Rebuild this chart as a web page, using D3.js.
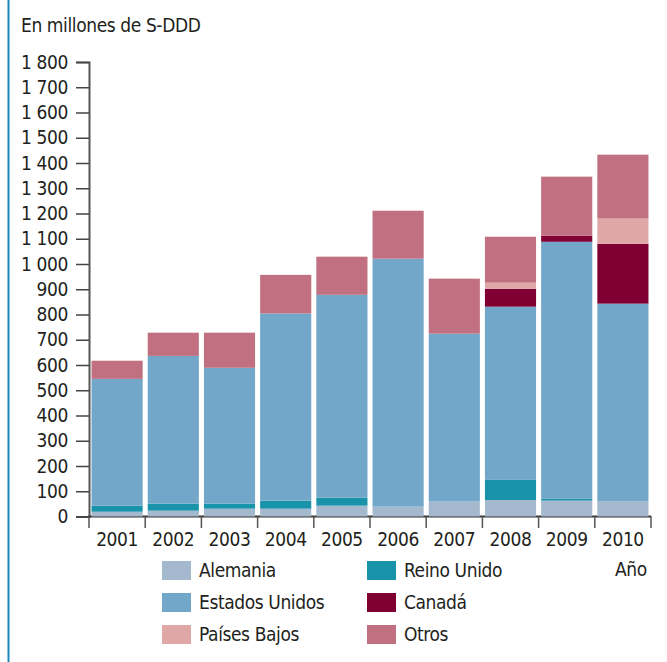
<!DOCTYPE html>
<html><head><meta charset="utf-8">
<script src="https://cdn.jsdelivr.net/npm/d3@7"></script>
<style>
body{margin:0;background:#fff;}
svg{display:block;}
text{font-family:"Liberation Sans Narrow","Arial Narrow","DejaVu Sans Condensed",sans-serif;fill:#231f20;letter-spacing:-0.4px;}
</style></head><body>
<svg id="c" width="667" height="662"></svg>
<script>
const years = ["2001","2002","2003","2004","2005","2006","2007","2008","2009","2010"];
const alemania       = [19, 23, 31, 31, 43, 39, 59, 65, 63, 61];
const reinoUnido     = [24, 28, 20, 32, 32, 0, 0, 80, 8, 0];
const estadosUnidos  = [502, 585, 538, 741, 803, 982, 665, 686, 1017, 782];
const canada         = [0, 0, 0, 0, 0, 0, 0, 71, 24, 237];
const paisesBajos    = [0, 0, 0, 0, 0, 0, 0, 24, 0, 100];
const otros          = [72, 92, 139, 153, 151, 190, 218, 182, 234, 253];
const yTicks = [0,100,200,300,400,500,600,700,800,900,1000,1100,1200,1300,1400,1500,1600,1700,1800];

const seriesDefs = [
  {key:"Alemania", name:"Alemania", values:alemania, color:"#a4b9cd"},
  {key:"ReinoUnido", name:"Reino Unido", values:reinoUnido, color:"#1993a9"},
  {key:"EstadosUnidos", name:"Estados Unidos", values:estadosUnidos, color:"#72a7ca"},
  {key:"Canada", name:"Canadá", values:canada, color:"#800033"},
  {key:"PaisesBajos", name:"Países Bajos", values:paisesBajos, color:"#e0a7a7"},
  {key:"Otros", name:"Otros", values:otros, color:"#c07080"}
];
const table = years.map((y,i)=>{const o={year:y}; seriesDefs.forEach(s=>o[s.key]=s.values[i]); return o;});
const stack = d3.stack().keys(seriesDefs.map(s=>s.key))(table);

const svg = d3.select("#c");
svg.append("line").attr("x1",8.5).attr("x2",8.5).attr("y1",0).attr("y2",662)
  .attr("stroke","#1a86b9").attr("stroke-width",2);

svg.append("text").attr("x",21).attr("y",32).attr("font-size",19).text("En millones de S-DDD");

const x = d3.scaleBand().domain(years).range([89,651]).paddingInner(0.09).paddingOuter(0.045);
const y = d3.scaleLinear().domain([0,1800]).range([516.5,62]);
const step = x.step();

const fmt = d3.formatLocale({thousands:" ",grouping:[3],decimal:",",currency:["",""]}).format(",");
const yAxis = d3.axisLeft(y).tickValues(yTicks).tickSize(13).tickSizeOuter(13).tickFormat(fmt);
const gy = svg.append("g").attr("transform","translate(89,0)").call(yAxis);
gy.select(".domain").attr("stroke","#555").attr("stroke-width",2);
gy.selectAll(".tick line").attr("stroke","#444").attr("stroke-width",1.5);
gy.selectAll(".tick text").attr("x",-21).attr("font-size",19).attr("font-family",null).attr("fill","#231f20");

svg.append("line").attr("x1",88).attr("x2",651).attr("y1",516.5).attr("y2",516.5)
  .attr("stroke","#333").attr("stroke-width",2);
const bounds = years.map(d=>x(d)-step*x.paddingInner()/2).concat([x(years[years.length-1])+x.bandwidth()+step*x.paddingInner()/2]);
svg.selectAll(".xt").data(bounds).enter().append("line")
  .attr("x1",d=>d).attr("x2",d=>d).attr("y1",516).attr("y2",528)
  .attr("stroke","#555").attr("stroke-width",1.5);
svg.selectAll(".xl").data(years).enter().append("text")
  .attr("x",d=>x(d)+x.bandwidth()/2).attr("y",546).attr("text-anchor","middle").attr("font-size",19).text(d=>d);

const colorOf = Object.fromEntries(seriesDefs.map(s=>[s.key,s.color]));
svg.append("g").selectAll("g").data(stack).enter().append("g").attr("fill",d=>colorOf[d.key])
  .selectAll("rect").data(d=>d).enter().append("rect")
  .attr("x",d=>x(d.data.year)).attr("width",x.bandwidth())
  .attr("y",d=>y(d[1])).attr("height",d=>Math.max(0,y(d[0])-y(d[1])));

const legendOrder = [
  {s:seriesDefs[0], col:0,row:0},{s:seriesDefs[1], col:1,row:0},
  {s:seriesDefs[2], col:0,row:1},{s:seriesDefs[3], col:1,row:1},
  {s:seriesDefs[4], col:0,row:2},{s:seriesDefs[5], col:1,row:2}
];
const lg = svg.append("g");
legendOrder.forEach(o=>{
  const lx = o.col===0?162:367, ly = 561 + o.row*32;
  lg.append("rect").attr("x",lx).attr("y",ly).attr("width",29).attr("height",19).attr("fill",o.s.color);
  lg.append("text").attr("x",lx+37).attr("y",ly+16).attr("font-size",19).text(o.s.name);
});
svg.append("text").attr("x",615).attr("y",576).attr("font-size",19).text("Año");
</script></body></html>
